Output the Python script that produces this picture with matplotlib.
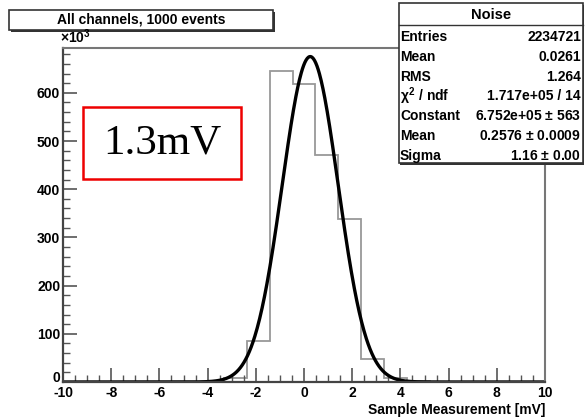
import numpy as np
import matplotlib
matplotlib.use('Agg')
import matplotlib.pyplot as plt
from matplotlib.patches import Rectangle
from matplotlib.ticker import MultipleLocator

# histogram: 21 bins from -10 to 10 mV, counts in units of 10^3
bin_edges = np.linspace(-10, 10, 22)
counts = [0, 0, 0, 0, 0, 0, 0, 8, 85, 646, 619, 471, 339, 48, 8, 2, 0, 0, 0, 0, 0]

# gaussian fit parameters (from stats box)
fit_constant = 675.2
fit_mean = 0.2576
fit_sigma = 1.16

stats_labels = ['Entries', 'Mean', 'RMS', r'$\chi^2$ / ndf', 'Constant', 'Mean', 'Sigma']
stats_values = ['2234721', '0.0261', '1.264', '1.717e+05 / 14',
                '6.752e+05 $\\pm$ 563', '0.2576 $\\pm$ 0.0009', '1.16 $\\pm$ 0.00']

plt.rcParams['font.family'] = ['Liberation Sans', 'DejaVu Sans']
plt.rcParams['font.weight'] = 'bold'
plt.rcParams['axes.labelweight'] = 'bold'
plt.rcParams['axes.unicode_minus'] = False
plt.rcParams['mathtext.fontset'] = 'custom'
plt.rcParams['mathtext.rm'] = 'Liberation Sans:bold'
plt.rcParams['mathtext.it'] = 'Liberation Sans:bold'

W, H = 586, 419
fig = plt.figure(figsize=(W / 100, H / 100), dpi=100)
ax = fig.add_axes([63 / W, 1 - 382 / H, (545 - 63) / W, (382 - 48) / H])

ax.stairs(counts, bin_edges, color='#999999', linewidth=1.3)
xs = np.linspace(-10, 10, 800)
ax.plot(xs, fit_constant * np.exp(-0.5 * ((xs - fit_mean) / fit_sigma) ** 2),
        color='black', linewidth=2.4)

ax.set_xlim(-10, 10)
ax.set_ylim(0, 693)
ax.xaxis.set_major_locator(MultipleLocator(2))
ax.xaxis.set_minor_locator(MultipleLocator(0.5))
ax.yaxis.set_major_locator(MultipleLocator(100))
ax.yaxis.set_minor_locator(MultipleLocator(20))
ax.tick_params(which='both', direction='in', top=False, right=False, color='#555555',
               labelsize=10)
ax.tick_params(axis='x', pad=3)
ax.tick_params(axis='y', pad=2)
ax.tick_params(which='major', length=10, width=1.2)
ax.tick_params(which='minor', length=5, width=1)
ax.set_yticks([0, 100, 200, 300, 400, 500, 600])
ax.set_yticklabels(['0', '100', '200', '300', '400', '500', '600'])
ax.get_yticklabels()[0].set_verticalalignment('baseline')
for side in ['left', 'bottom']:
    ax.spines[side].set_color('#444444')
    ax.spines[side].set_linewidth(1.6)
for side in ['top', 'right']:
    ax.spines[side].set_color('#777777')
    ax.spines[side].set_linewidth(1.5)

ax.set_xlabel('Sample Measurement [mV]', fontsize=10, loc='right', labelpad=2)
fig.text(60 / W, 1 - 43 / H, r'$\times$10$^3$', fontsize=10, ha='left', va='baseline')

# title box
fig.patches.append(Rectangle((11 / W, 1 - 32 / H), 264 / W, 20 / H, transform=fig.transFigure,
                             facecolor='#333333', edgecolor='none'))
fig.patches.append(Rectangle((9 / W, 1 - 30 / H), 264 / W, 20 / H, transform=fig.transFigure,
                             facecolor='white', edgecolor='#333333', linewidth=1.2))
fig.text(141 / W, 1 - 20 / H, 'All channels, 1000 events', fontsize=10,
         ha='center', va='center')

# stats box
bx0, bx1, by0, by1 = 399, 583, 3, 163
fig.patches.append(Rectangle(((bx0 + 1) / W, 1 - (by1 + 2) / H), (bx1 - bx0) / W,
                             (by1 - by0) / H, transform=fig.transFigure,
                             facecolor='#333333', edgecolor='none'))
fig.patches.append(Rectangle((bx0 / W, 1 - by1 / H), (bx1 - bx0) / W, (by1 - by0) / H,
                             transform=fig.transFigure, facecolor='white',
                             edgecolor='#333333', linewidth=1.2))
fig.add_artist(plt.Line2D([bx0 / W, bx1 / W], [1 - 25 / H] * 2,
                          transform=fig.transFigure, color='#333333', linewidth=1))
fig.text((bx0 + bx1) / 2 / W, 1 - 15 / H, 'Noise', fontsize=10.5,
         ha='center', va='center')
for i, (lab, val) in enumerate(zip(stats_labels, stats_values)):
    y = 1 - (37 + i * 19.8) / H
    fig.text((bx0 + 1) / W, y, lab, fontsize=10, ha='left', va='center')
    fig.text((bx1 - 2) / W, y, val, fontsize=10, ha='right', va='center')

# red annotation box
fig.patches.append(Rectangle((83 / W, 1 - 179 / H), 158 / W, 72 / H, transform=fig.transFigure,
                             facecolor='white', edgecolor='#ee0000', linewidth=1.8))
fig.text(162 / W, 1 - 143 / H, '1.3mV', fontsize=31, family='Liberation Serif',
         fontweight='normal', ha='center', va='center')

fig.savefig('out.png', dpi=100)
